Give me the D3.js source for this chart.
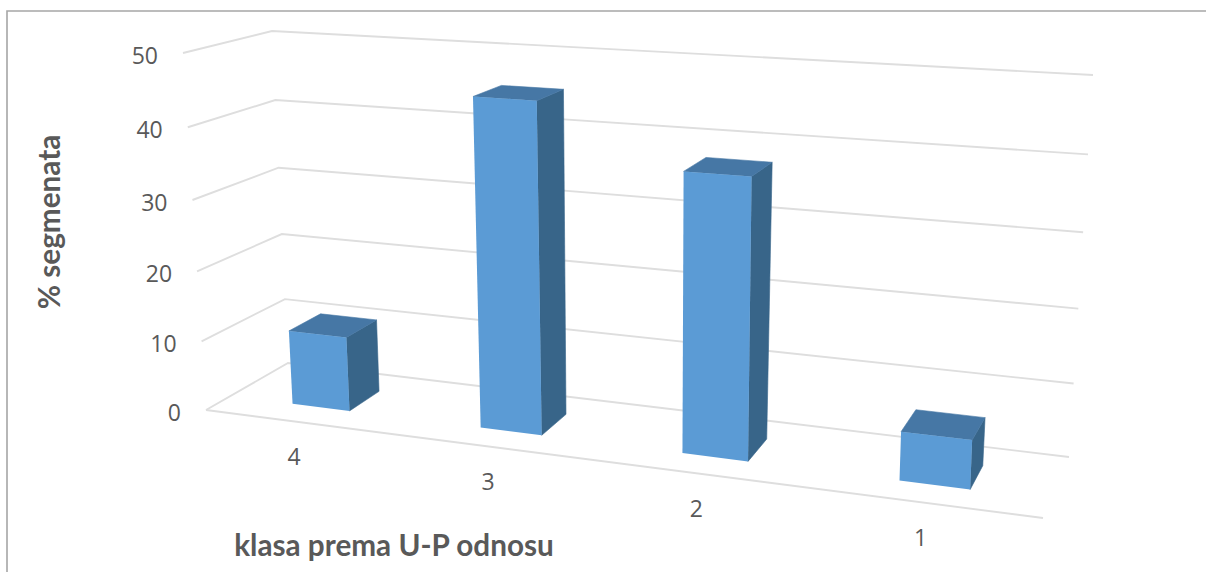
<!DOCTYPE html>
<html><head><meta charset="utf-8">
<script src="https://cdn.jsdelivr.net/npm/d3@7/dist/d3.min.js"></script>
<style>html,body{margin:0;padding:0;background:#fff;overflow:hidden}svg{display:block}text{font-family:Lato,"Open Sans",sans-serif;fill:#595959}text.yt,text.xt{font-family:"Open Sans",Lato,sans-serif}</style>
</head><body><svg id="c" width="1206" height="572"></svg>
<script>
const categories = ["4","3","2","1"];
const values = [10.7, 45.5, 37.7, 6.5];
const yTicks = [0,10,20,30,40,50];
const yTitle = "% segmenata";
const xTitle = "klasa prema U-P odnosu";

// Perspective box corners of the 3D plot: [front-left, front-right, back-left, back-right]
const floorCorners = [[206,410],[1043,518],[288,363],[1069,457]];
const ceilCorners  = [[183,53],[1061,108],[272,31],[1093,75]];
const depthFront = 0.3, depthBack = 0.7;

const svg = d3.select("#c");
const band = d3.scaleBand().domain(categories).range([0,1]).paddingInner(0.69).paddingOuter(0.345);
const wScale = d3.scaleLinear().domain([0,50]).range([0,1]);
const persp = c => t => t/(t + c*(1-t));
const uPersp = persp(1.155), wPersp = persp(1.05);
const lerp = (a,b,t)=>[a[0]+(b[0]-a[0])*t, a[1]+(b[1]-a[1])*t];
function quad(q,u,v){ return lerp(lerp(q[0],q[1],u), lerp(q[2],q[3],u), v); }
function project(t,v,w){
  const u = uPersp(t);
  return lerp(quad(floorCorners,u,v), quad(ceilCorners,u,v), wPersp(wScale(w)));
}
const line = d3.line();

// frame
svg.append("path").attr("d","M7,572V11H1206").attr("fill","none").attr("stroke","#a6a6a6").attr("stroke-width",1.6);

// gridlines
svg.selectAll("path.grid").data(yTicks).join("path").attr("class","grid")
  .attr("fill","none").attr("stroke","#dedede").attr("stroke-width",1.9)
  .attr("d",w=>line([project(0,0,w),project(0,1,w),project(1,1,w)]));
svg.append("path").attr("fill","none").attr("stroke","#dedede").attr("stroke-width",1.9)
  .attr("d",line([project(0,0,0),project(1,0,0)]));

// y labels
svg.selectAll("text.yt").data(yTicks).join("text").attr("class","yt")
  .attr("text-anchor","end").attr("font-size",23).attr("dominant-baseline","central")
  .attr("x",w=>project(0,0,w)[0]-25).attr("y",w=>project(0,0,w)[1]+1.5).text(d=>d);

// bars
const bars = svg.selectAll("g.bar").data(categories.map((c,i)=>({c,v:values[i]}))).join("g").attr("class","bar");
bars.each(function(d){
  const g=d3.select(this), t0=band(d.c), t1=t0+band.bandwidth();
  const P=(t,v,w)=>project(t,v,w);
  g.append("path").attr("fill","#386589").attr("stroke","#386589").attr("stroke-width",0.6).attr("d",line([P(t1,depthFront,d.v),P(t1,depthBack,d.v),P(t1,depthBack,0),P(t1,depthFront,0)])+"Z");
  g.append("path").attr("fill","#4677a5").attr("stroke","#4677a5").attr("stroke-width",0.6).attr("d",line([P(t0,depthFront,d.v),P(t0,depthBack,d.v),P(t1,depthBack,d.v),P(t1,depthFront,d.v)])+"Z");
  g.append("path").attr("fill","#5b9bd5").attr("d",line([P(t0,depthFront,d.v),P(t1,depthFront,d.v),P(t1,depthFront,0),P(t0,depthFront,0)])+"Z");
});

// category labels
svg.selectAll("text.xt").data(categories).join("text").attr("class","xt")
  .attr("text-anchor","middle").attr("font-size",23).attr("dominant-baseline","central")
  .attr("x",c=>project(band(c)+band.bandwidth()/2,0,0)[0]-4)
  .attr("y",c=>project(band(c)+band.bandwidth()/2,0,0)[1]+34).text(d=>d);

// axis titles
svg.append("text").attr("x",394).attr("y",556).attr("text-anchor","middle").attr("font-size",29.7).attr("font-weight",700).text(xTitle);
svg.append("text").attr("transform","translate(60,222) rotate(-90)").attr("text-anchor","middle").attr("font-size",29.7).attr("font-weight",700).text(yTitle);
</script></body></html>
